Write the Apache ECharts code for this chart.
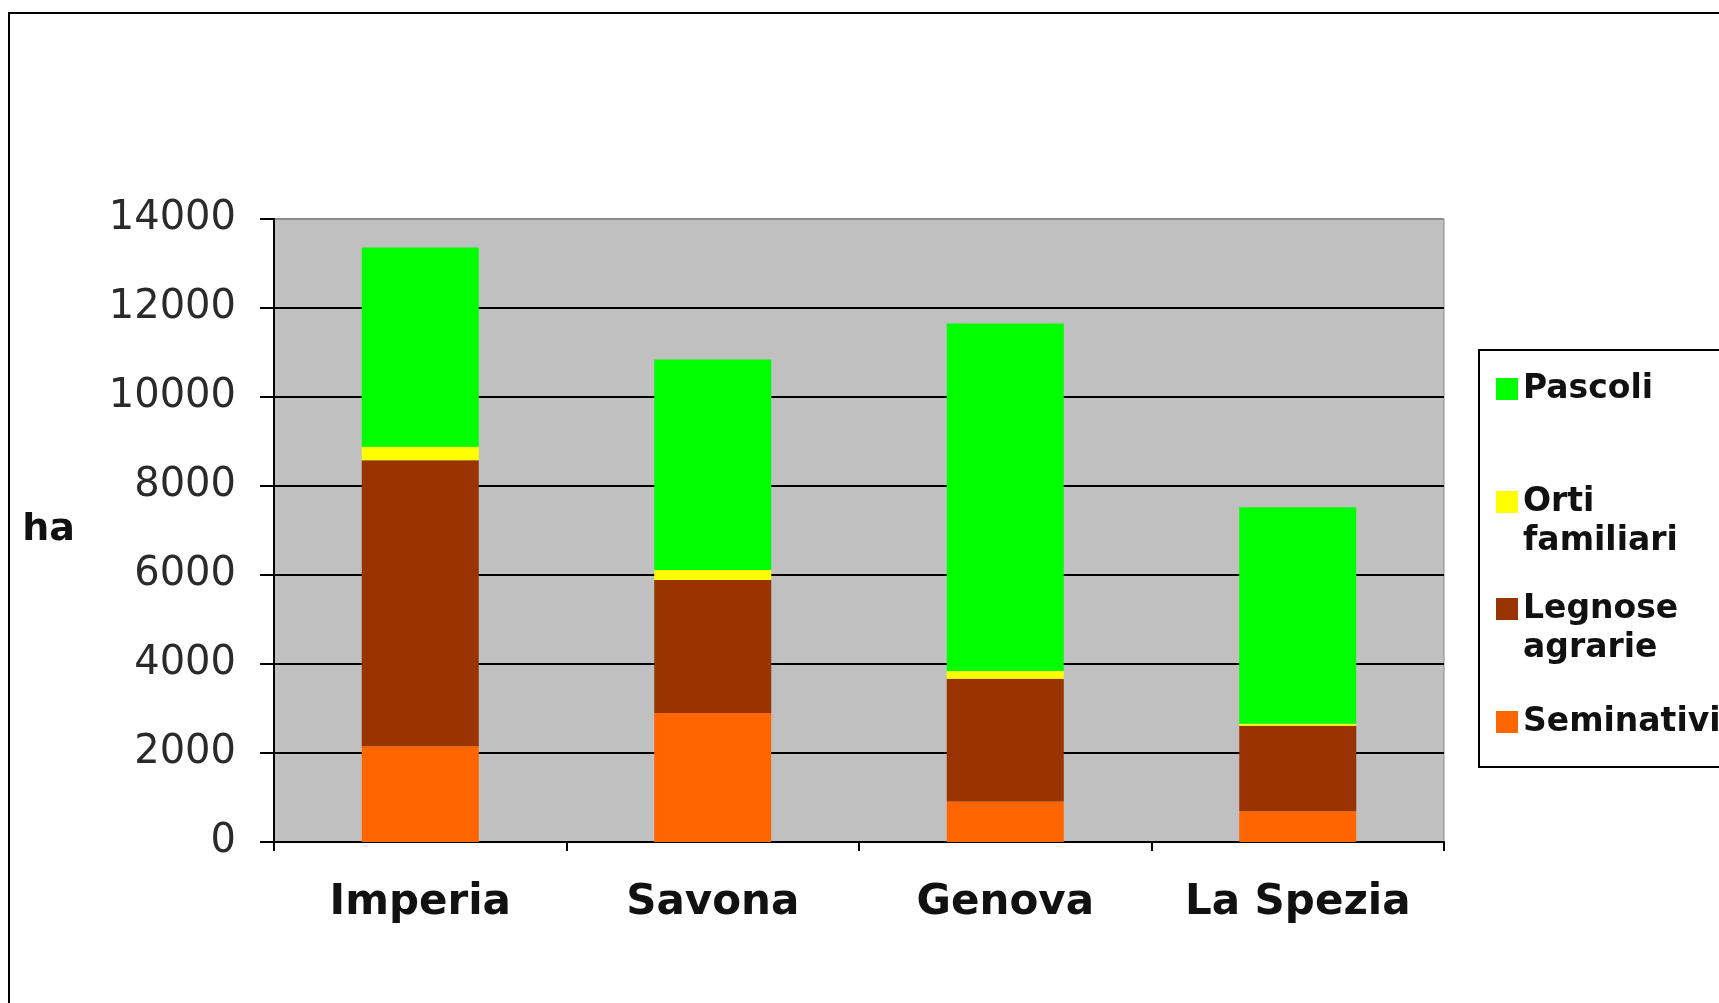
<!DOCTYPE html>
<html>
<head>
<meta charset="utf-8">
<script src="https://cdn.jsdelivr.net/npm/echarts@6/dist/echarts.min.js"></script>
<style>
  html, body { margin: 0; padding: 0; background: #fff; }
  #chart { width: 1719px; height: 1003px; }
</style>
</head>
<body>
<div id="chart"></div>
<script>
// provinces on the x axis
const provinces = ['Imperia', 'Savona', 'Genova', 'La Spezia'];
// hectares per crop type (stack order bottom -> top)
const seminativi = [2150, 2900, 910, 690];
const legnose = [6430, 2990, 2760, 1920];
const orti = [300, 220, 170, 50];
const pascoli = [4480, 4730, 7810, 4860];
const yTicks = [0, 2000, 4000, 6000, 8000, 10000, 12000, 14000];

const seriesNames = ['Seminativi', 'Legnose agrarie', 'Orti familiari', 'Pascoli'];
const seriesData = [seminativi, legnose, orti, pascoli];
const colors = ['#ff6600', '#993300', '#ffff00', '#00ff00'];

const chart = echarts.init(document.getElementById('chart'));

// legend text: two-word names wrap, icon sits on the first line
// (an empty leading line keeps the first line level with the icon)
const legendText = {
  'Pascoli': 'Pascoli',
  'Orti familiari': ' \nOrti\nfamiliari',
  'Legnose agrarie': ' \nLegnose\nagrarie',
  'Seminativi': 'Seminativi'
};
const LH = 39;
function makeLegend(name, iconY) {
  const lines = legendText[name].split('\n').length;
  return {
    data: [name],
    left: 1491,
    top: iconY - LH * lines / 2,
    itemWidth: 22,
    itemHeight: 22,
    itemGap: 0,
    icon: 'rect',
    selectedMode: false,
    formatter: function (n) { return legendText[n]; },
    textStyle: {
      fontFamily: 'DejaVu Sans',
      fontWeight: 'bold',
      fontSize: 33,
      color: '#111',
      lineHeight: LH
    }
  };
}

const option = {
  backgroundColor: '#ffffff',
  animation: false,
  color: colors,
  grid: {
    left: 274, top: 219, right: 275, bottom: 161,
    outerBoundsMode: 'none',
    containLabel: false,
    show: true,
    backgroundColor: '#c0c0c0',
    borderColor: '#8c8c8c',
    borderWidth: 1
  },
  legend: [
    makeLegend('Pascoli', 384),
    makeLegend('Orti familiari', 497),
    makeLegend('Legnose agrarie', 604),
    makeLegend('Seminativi', 717)
  ],
  graphic: [
    {
      type: 'rect',
      shape: { x: 9, y: 13, width: 1800, height: 1100 },
      style: { fill: 'none', stroke: '#000', lineWidth: 2 },
      silent: true
    },
    {
      type: 'rect',
      shape: { x: 1479, y: 350, width: 400, height: 417 },
      style: { fill: 'none', stroke: '#000', lineWidth: 2 },
      silent: true
    }
  ],
  xAxis: {
    type: 'category',
    data: provinces,
    axisLine: { lineStyle: { color: '#000', width: 2 } },
    axisTick: { show: true, interval: 0, length: 9, lineStyle: { color: '#000', width: 2 } },
    axisLabel: {
      interval: 0,
      margin: 40,
      fontFamily: 'DejaVu Sans',
      fontWeight: 'bold',
      fontSize: 42,
      color: '#111'
    }
  },
  yAxis: {
    type: 'value',
    min: 0,
    max: 14000,
    interval: 2000,
    name: 'ha',
    nameLocation: 'middle',
    nameRotate: 0,
    nameGap: 199,
    nameTextStyle: {
      fontFamily: 'DejaVu Sans',
      fontWeight: 'bold',
      fontSize: 38,
      color: '#111',
      padding: [0, 0, 30, 0]
    },
    axisLine: { show: true, lineStyle: { color: '#000', width: 2 } },
    axisTick: { show: true, length: 14, lineStyle: { color: '#000', width: 2 } },
    axisLabel: {
      margin: 38,
      fontFamily: 'DejaVu Sans',
      fontSize: 40,
      color: '#2a2a2a',
      formatter: function (v) { return yTicks.indexOf(v) >= 0 ? String(v) : ''; }
    },
    splitLine: {
      show: true,
      lineStyle: {
        color: ['#000', '#000', '#000', '#000', '#000', '#000', '#000', '#8c8c8c'],
        width: 2
      }
    }
  },
  series: seriesNames.map(function (name, i) {
    return {
      name: name,
      type: 'bar',
      stack: 'total',
      barWidth: '40%',
      data: seriesData[i],
      itemStyle: { color: colors[i] }
    };
  })
};

chart.setOption(option);
</script>
</body>
</html>
